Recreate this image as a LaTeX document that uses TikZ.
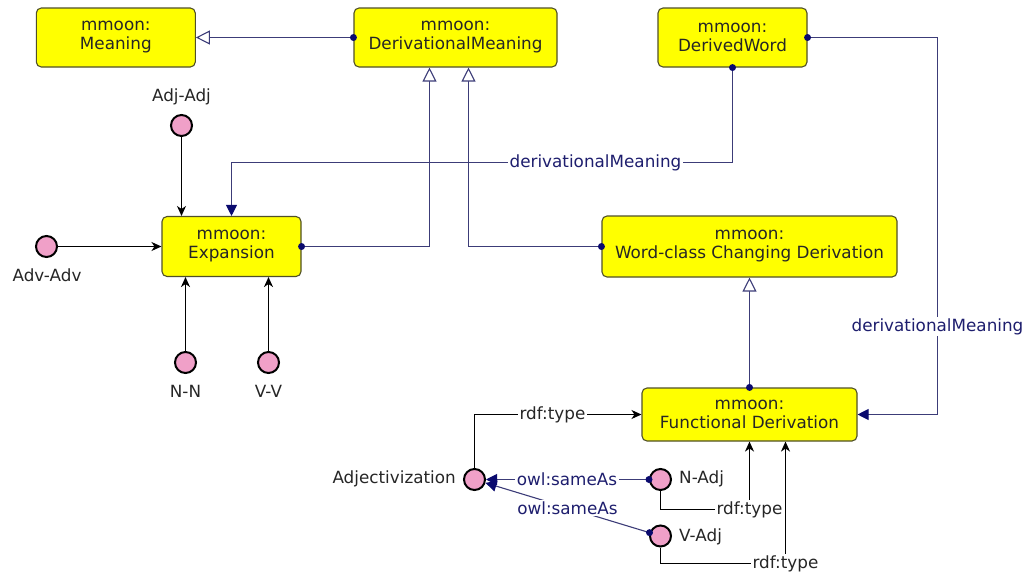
\documentclass[tikz,border=0pt]{standalone}
\usepackage{fontspec}
\setmainfont{DejaVu Sans}
\usetikzlibrary{arrows.meta,calc}

\definecolor{boxfill}{RGB}{255,255,0}
\definecolor{boxline}{RGB}{80,80,40}
\definecolor{pinkfill}{RGB}{240,160,200}
\definecolor{navyline}{RGB}{60,60,120}
\definecolor{navydot}{RGB}{10,10,110}
\definecolor{navytext}{RGB}{30,30,110}

\newcommand{\lblfont}{\fontsize{16.8}{19}\selectfont}

\tikzset{
  cls/.style={draw=boxline, fill=boxfill, rounded corners=5pt, line width=1.1pt,
    align=center, inner sep=0pt, font=\lblfont, text=black!85},
  ind/.style={circle, draw=black, fill=pinkfill, line width=2pt,
    minimum size=21pt, inner sep=0pt},
  indlabel/.style={inner sep=0pt, font=\lblfont, text=black!85},
  subcls/.style={draw=navyline, line width=1.1pt,
    -{Triangle[length=14pt, width=14pt, fill=white, line width=1.1pt]}},
  prop/.style={draw=navyline, line width=1.1pt,
    -{Triangle[length=11pt, width=11pt, color=navydot]}},
  typ/.style={draw=black, line width=1.1pt,
    -{Stealth[length=10pt, width=9pt, inset=3pt]}},
  plabel/.style={fill=white, inner sep=1.5pt, font=\lblfont, text=navytext},
  tlabel/.style={fill=white, inner sep=1.5pt, font=\lblfont, text=black!85},
  srcdot/.style={fill=navydot},
}

\begin{document}
\begin{tikzpicture}[x=1pt, y=-1pt]
\useasboundingbox (0,0) rectangle (1026,576);

% classes
\node[cls, minimum width=159pt, minimum height=59pt] (mean)  at (115.8,37.5)  {mmoon:\\Meaning};
\node[cls, minimum width=203pt, minimum height=59pt] (dmean) at (455.5,37.5)  {mmoon:\\DerivationalMeaning};
\node[cls, minimum width=149pt, minimum height=59pt] (dword) at (732.5,37.5)  {mmoon:\\DerivedWord};
\node[cls, minimum width=139pt, minimum height=60pt] (exp)   at (231.5,246.5) {mmoon:\\Expansion};
\node[cls, minimum width=295pt, minimum height=61pt] (wcc)   at (749.5,246.5) {mmoon:\\Word-class Changing Derivation};
\node[cls, minimum width=215pt, minimum height=53pt] (func)  at (749.5,414.5) {mmoon:\\Functional Derivation};

% individuals
\node[ind] (adjadj) at (181.5,125.5) {};
\node[ind] (advadv) at (46.5,246.5) {};
\node[ind] (nn)     at (185.5,362.5) {};
\node[ind] (vv)     at (268.5,362.5) {};
\node[ind] (adj)    at (474.5,479.5) {};
\node[ind] (nadj)   at (660.5,479.5) {};
\node[ind] (vadj)   at (660.5,536) {};

% individual names
\node[indlabel] (adjadjL) at (181.5,97) {Adj-Adj};
\node[indlabel] (advadvL) at (47,275) {Adv-Adv};
\node[indlabel] (nnL)     at (185.5,391.5) {N-N};
\node[indlabel] (vvL)     at (268.5,391.5) {V-V};
\node[indlabel, anchor=east] (adjL)  at (456,479) {Adjectivization};
\node[indlabel, anchor=west] (nadjL) at (679,479) {N-Adj};
\node[indlabel, anchor=west] (vadjL) at (679,536.5) {V-Adj};

% subclass relations
\draw[subcls] (dmean.west) -- (mean.east);
\fill[srcdot] (dmean.west) circle (3.5pt);
\draw[subcls] (exp.east) -| ([xshift=-26pt]dmean.south);
\fill[srcdot] (exp.east) circle (3.5pt);
\draw[subcls] (wcc.west) -| ([xshift=13pt]dmean.south);
\fill[srcdot] (wcc.west) circle (3.5pt);
\draw[subcls] (func.north) -- (wcc.south);
\fill[srcdot] (func.north) circle (3.5pt);

% derivationalMeaning properties
\draw[prop] (dword.south) -- ++(0,95) -| (exp.north);
\fill[srcdot] (dword.south) circle (3.5pt);
\node[plabel] (dmL1) at (595.5,162.5) {derivationalMeaning};
\draw[prop] (dword.east) -- ([xshift=130pt]dword.east) |- (func.east);
\fill[srcdot] (dword.east) circle (3.5pt);
\node[plabel] (dmL2) at (937.5,326.7) {derivationalMeaning};

% members of Expansion
\draw[typ] (adjadj.south) -- (adjadj.south |- exp.north);
\draw[typ] (advadv.east) -- (exp.west |- advadv.east);
\draw[typ] (nn.north) -- (nn.north |- exp.south);
\draw[typ] (vv.north) -- (vv.north |- exp.south);

% members of Functional Derivation
\draw[typ] (adj.north) |- (func.west);
\node[tlabel] (tyA) at (552.5,414.5) {rdf:type};
\draw[typ] (nadj.south) |- ([yshift=-68pt]func.south) -- (func.south);
\node[tlabel] (tyN) at ([yshift=-68pt]func.south) {rdf:type};
\draw[typ] (vadj.south) |- ([xshift=36pt,yshift=-122pt]func.south) -- ([xshift=36pt]func.south);
\node[tlabel] (tyV) at ([xshift=36pt,yshift=-122pt]func.south) {rdf:type};

% owl:sameAs links
\draw[prop] (nadj.west) -- (adj.east);
\fill[srcdot] (nadj.west) circle (3.5pt);
\node[plabel] (saN) at (567,479.5) {owl:sameAs};
\draw[prop] (vadj.163) -- (adj.-17);
\fill[srcdot] (vadj.163) circle (3.5pt);
\node[plabel] (saV) at ($(vadj.163)!0.5!(adj.-17)$) {owl:sameAs};
\end{tikzpicture}
\end{document}
